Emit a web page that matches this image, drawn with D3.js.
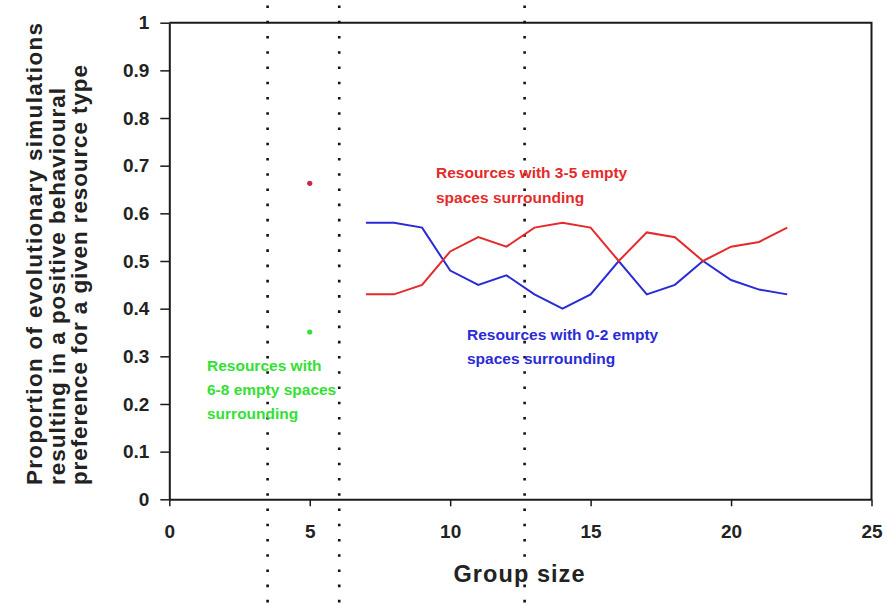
<!DOCTYPE html>
<html>
<head>
<meta charset="utf-8">
<script src="https://cdn.jsdelivr.net/npm/d3@7"></script>
<style>
  html, body { margin: 0; padding: 0; background: #fff; }
  svg { display: block; font-family: "Liberation Sans", Arial, sans-serif; }
</style>
</head>
<body>
<svg id="chart" width="887" height="605"></svg>
<script>
// ---- data ----
const groupSizes = [7, 8, 9, 10, 11, 12, 13, 14, 15, 16, 17, 18, 19, 20, 21, 22];
const res35 = [0.43, 0.43, 0.45, 0.52, 0.55, 0.53, 0.57, 0.58, 0.57, 0.50, 0.56, 0.55, 0.50, 0.53, 0.54, 0.57];
const res02 = [0.58, 0.58, 0.57, 0.48, 0.45, 0.47, 0.43, 0.40, 0.43, 0.50, 0.43, 0.45, 0.50, 0.46, 0.44, 0.43];
const singleX = [5];
const single35 = [0.663];
const single68 = [0.351];
const dottedX = [3.5, 6.05, 12.65];
const xTicks = [0, 5, 10, 15, 20, 25];
const yTicks = [0, 0.1, 0.2, 0.3, 0.4, 0.5, 0.6, 0.7, 0.8, 0.9, 1];
const yTickLabels = ["0", "0.1", "0.2", "0.3", "0.4", "0.5", "0.6", "0.7", "0.8", "0.9", "1"];
const yTitle = ["Proportion of  evolutionary simulations", "resulting in a positive behavioural", "preference for a given resource type"];
const xTitle = "Group size";
const label35 = ["Resources with 3-5 empty", "spaces surrounding"];
const label02 = ["Resources with 0-2 empty", "spaces surrounding"];
const label68 = ["Resources with", "6-8 empty spaces", "surrounding"];

// ---- layout ----
const svg = d3.select("#chart");
const W = 887, H = 605;
const x = d3.scaleLinear().domain([0, 25]).range([169.3, 871.5]);
const y = d3.scaleLinear().domain([0, 1]).range([499.3, 22.7]);
const axisColor = "#1a1a1a";
const RED = "#e42a2a", BLUE = "#2b2bd6", GREEN = "#33e033";
const yTitleLengths = [462, 397, 420];

// frame (top + right)
svg.append("path")
  .attr("d", `M${x(0)},${y(1)}H${x(25)}V${y(0)}`)
  .attr("fill", "none").attr("stroke", axisColor).attr("stroke-width", 2);

// left axis
const yAxis = d3.axisLeft(y).tickValues(yTicks).tickSize(9).tickSizeOuter(0)
  .tickFormat((d, i) => yTickLabels[i]);
const gy = svg.append("g").attr("transform", `translate(${x(0)},0)`).call(yAxis);
gy.select(".domain").attr("stroke", axisColor).attr("stroke-width", 2);
gy.selectAll(".tick line").attr("stroke", axisColor).attr("stroke-width", 1.5);
gy.selectAll(".tick text").attr("x", -20).attr("fill", "#222")
  .style("font-size", "19px").style("font-weight", "bold")
  .style("font-family", "'Liberation Sans', Arial, sans-serif");

// bottom axis
const xAxis = d3.axisBottom(x).tickValues(xTicks).tickSize(7).tickSizeOuter(0).tickFormat(d3.format("d"));
const gx = svg.append("g").attr("transform", `translate(0,${y(0)})`).call(xAxis);
gx.select(".domain").attr("stroke", axisColor).attr("stroke-width", 2);
gx.selectAll(".tick line").attr("stroke", axisColor).attr("stroke-width", 1.5);
gx.selectAll(".tick text").attr("y", 25).attr("dy", "0.71em").attr("fill", "#222")
  .style("font-size", "19px").style("font-weight", "bold")
  .style("font-family", "'Liberation Sans', Arial, sans-serif");

// dotted vertical lines (span whole picture)
svg.selectAll("line.dotted").data(dottedX).enter().append("line")
  .attr("class", "dotted")
  .attr("x1", d => x(d)).attr("x2", d => x(d))
  .attr("y1", 5.5).attr("y2", H)
  .attr("stroke", "#111").attr("stroke-width", 2.6)
  .attr("stroke-dasharray", "2.6,12.64");

// lines
const line = d3.line().x((d, i) => x(groupSizes[i])).y(d => y(d));
svg.append("path").datum(res02).attr("d", line)
  .attr("fill", "none").attr("stroke", BLUE).attr("stroke-width", 2);
svg.append("path").datum(res35).attr("d", line)
  .attr("fill", "none").attr("stroke", RED).attr("stroke-width", 2);

// single points at group size 5
svg.selectAll("circle.p35").data(single35).enter().append("circle")
  .attr("cx", (d, i) => x(singleX[i])).attr("cy", d => y(d)).attr("r", 2.6)
  .attr("fill", "#c8284a");
svg.selectAll("circle.p68").data(single68).enter().append("circle")
  .attr("cx", (d, i) => x(singleX[i])).attr("cy", d => y(d)).attr("r", 2.6)
  .attr("fill", GREEN);

// annotations
function block(lines, x0, y0, color, lh) {
  svg.append("g").selectAll("text").data(lines).enter().append("text")
    .attr("x", x0).attr("y", (d, i) => y0 + i * lh)
    .attr("fill", color)
    .style("font-size", "15.5px").style("font-weight", "bold")
    .text(d => d);
}
block(label35, 436, 178, RED, 24.5);
block(label02, 467, 339.5, BLUE, 24);
block(label68, 207, 371, GREEN, 24);

// axis titles
svg.append("g").selectAll("text").data(yTitle).enter().append("text")
  .attr("transform", (d, i) => `translate(${42 + i * 22.5},485) rotate(-90)`)
  .attr("text-anchor", "start")
  .attr("textLength", (d, i) => yTitleLengths[i])
  .attr("lengthAdjust", "spacing")
  .attr("fill", "#222")
  .style("font-size", "22.5px").style("font-weight", "bold")
  .text(d => d);

svg.append("text")
  .attr("x", 519).attr("y", 582)
  .attr("text-anchor", "middle")
  .attr("textLength", 131)
  .attr("lengthAdjust", "spacing")
  .attr("fill", "#222")
  .style("font-size", "23.5px").style("font-weight", "bold")
  .text(xTitle);
</script>
</body>
</html>
